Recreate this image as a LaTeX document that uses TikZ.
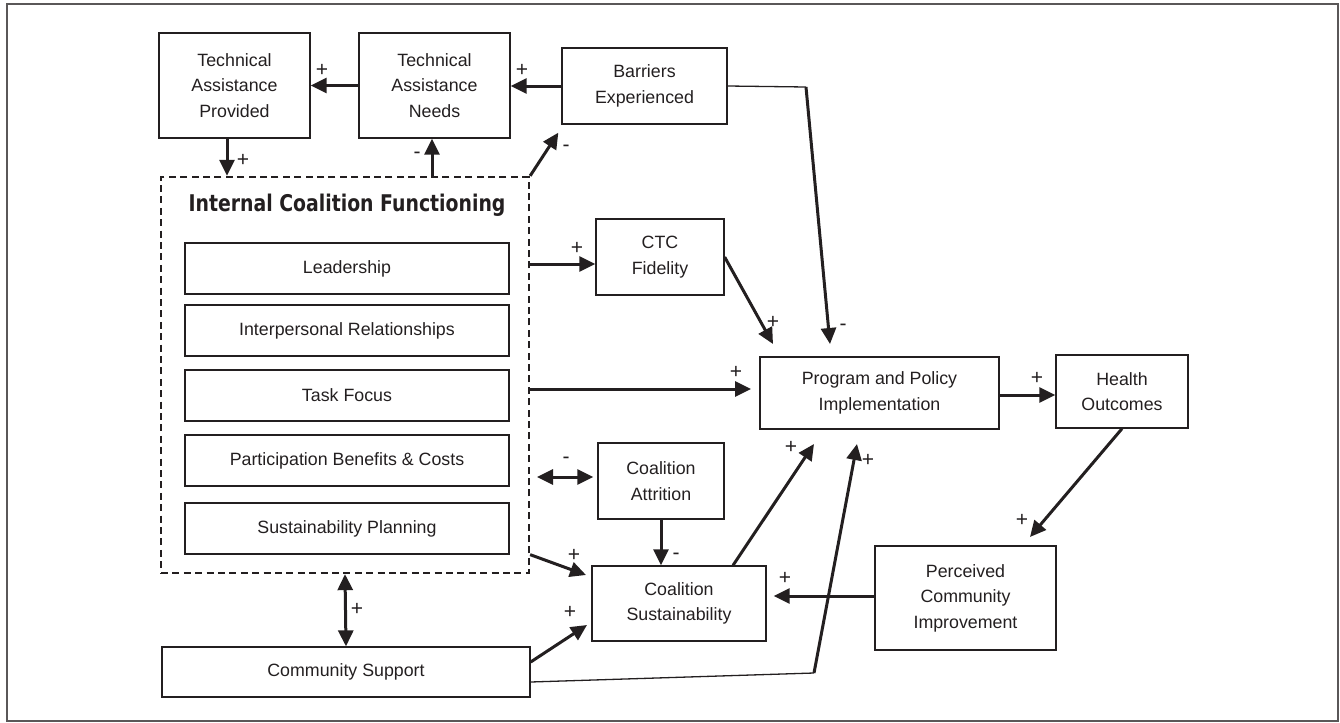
\documentclass[tikz,border=0pt]{standalone}
\usepackage{fontspec}
\setmainfont{Liberation Sans}
\newfontfamily\titlefont{DejaVu Sans}
\usetikzlibrary{arrows.meta,calc}
\definecolor{ink}{HTML}{231F20}
\begin{document}
\begin{tikzpicture}[x=0.5pt,y=-0.5pt,
  box/.style={draw=ink,line width=0.65pt,align=center,inner sep=0pt,text=ink,font=\fontsize{8.9}{12.8}\selectfont},
  thk/.style={draw=ink,line width=1.5pt,-{Triangle[length=8pt,width=7.5pt]}},
  dbl/.style={draw=ink,line width=1.5pt,{Triangle[length=8pt,width=7.5pt]}-{Triangle[length=8pt,width=7.5pt]}},
  thn/.style={draw=ink,line width=0.65pt},
  sg/.style={text=ink,font=\fontsize{10.5}{12}\selectfont,inner sep=0pt},
  dashbox/.style={draw=ink,line width=1.15pt,dash pattern=on 3.5pt off 2.2pt,inner sep=0pt},
]
\useasboundingbox (0,0) rectangle (1340,723);
\draw[ink!75,line width=0.7pt] (7,4) rectangle (1338,721);

% nodes
\node[box,minimum width=75.5pt,minimum height=52.5pt] (tap) at (234.5,85.5) {Technical\\Assistance\\Provided};
\node[box,minimum width=75.5pt,minimum height=52.5pt] (tan) at (434.5,85.5) {Technical\\Assistance\\Needs};
\node[box,minimum width=82.5pt,minimum height=38pt] (bar) at (644.5,86) {Barriers\\Experienced};
\node[dashbox,minimum width=184pt,minimum height=198pt] (icf) at (345,375) {};
\node[text=ink,inner sep=0pt] (title) at (347,205) {\scalebox{0.82}[1]{\titlefont\bfseries\fontsize{11.5}{13}\selectfont Internal Coalition Functioning}};
\node[box,minimum width=162pt,minimum height=25.5pt] (lead) at (347,268.5) {Leadership};
\node[box,minimum width=162pt,minimum height=25.5pt] (inter) at (347,330.5) {Interpersonal Relationships};
\node[box,minimum width=162pt,minimum height=25.5pt] (task) at (347,395.5) {Task Focus};
\node[box,minimum width=162pt,minimum height=25.5pt] (part) at (347,460.5) {Participation Benefits \& Costs};
\node[box,minimum width=162pt,minimum height=25.5pt] (spl) at (347,528.5) {Sustainability Planning};
\node[box,minimum width=64pt,minimum height=38pt] (ctc) at (660,257) {CTC\\Fidelity};
\node[box,minimum width=119.5pt,minimum height=36pt] (ppi) at (879.5,393) {Program and Policy\\Implementation};
\node[box,minimum width=66pt,minimum height=36.5pt] (ho) at (1122,391.5) {Health\\Outcomes};
\node[box,minimum width=63pt,minimum height=38pt] (att) at (661,481) {Coalition\\Attrition};
\node[box,minimum width=87pt,minimum height=37.5pt] (cs) at (679,603.5) {Coalition\\Sustainability};
\node[box,minimum width=90.5pt,minimum height=52pt] (pci) at (965.5,598) {Perceived\\Community\\Improvement};
\node[box,minimum width=184pt,minimum height=25pt] (com) at (346,672) {Community Support};

% free ends
\coordinate (bk) at (806,87);
\coordinate (barTip) at (830,344);
\coordinate (ctcIn) at ([yshift=-3.5pt]ctc.west);
\coordinate (ctcTip) at (773,344);
\coordinate (ppiIn) at (751,389);
\coordinate (pciTip) at (1030,537);
\coordinate (attL) at (537,477);
\coordinate (csTipA) at (586,575);
\coordinate (csTipB) at (587,625);
\coordinate (ppiTipA) at (814,444);
\coordinate (cm) at (814,673);
\coordinate (ppiTipB) at (857,444);

% connectors
\draw[thk] (tan.west) -- (tap.east);
\draw[thk] (bar.west) -- (bar.west -| tan.east);
\draw[thk] ([xshift=-3.75pt]tap.south) -- ([xshift=-3.75pt]tap.south |- icf.north);
\draw[thk] ([xshift=-1.25pt]tan.south |- icf.north) -- ([xshift=-1.25pt]tan.south);
\draw[thk] (icf.north east) -- ([shift={(-1.5pt,-4pt)}]bar.south west);
\draw[thn] (bar.east) -- (bk);
\draw[thk] (bk) -- (barTip);
\draw[thk] (icf.east |- ctcIn) -- (ctcIn);
\draw[thk] (ctc.east) -- (ctcTip);
\draw[thk] (icf.east |- ppiIn) -- (ppiIn);
\draw[thk] ([yshift=-1pt]ppi.east) -- ([yshift=-1pt]ppi.east -| ho.west);
\draw[thk] (ho.south) -- (pciTip);
\draw[dbl] (attL) -- ([xshift=-2pt]att.west |- attL);
\draw[thk] (att.south) -- (att.south |- cs.north);
\draw[thk] (icf.east |- spl.south) -- (csTipA);
\draw[thk] ([yshift=5pt]com.east) -- (csTipB);
\draw[thk] ([xshift=27pt]cs.north) -- (ppiTipA);
\draw[thn] ([yshift=-5pt]com.east) -- (cm);
\draw[thk] (cm) -- (ppiTipB);
\draw[thk] ([yshift=1pt]pci.west) -- ([yshift=1pt,xshift=3.5pt]pci.west -| cs.east);
\draw[dbl] (icf.south) -- (com.north);

% signs
\node[sg] (s1) at (322,70) {+};
\node[sg] (s2) at (522,70) {+};
\node[sg] (s3) at (243,160) {+};
\node[sg] (s4) at (417,155) {-};
\node[sg] (s5) at (566,148) {-};
\node[sg] (s6) at (577,248) {+};
\node[sg] (s7) at (773,322) {+};
\node[sg] (s8) at (843,327) {-};
\node[sg] (s9) at (736,372) {+};
\node[sg] (s10) at (1037,378) {+};
\node[sg] (s11) at (1022,520) {+};
\node[sg] (s12) at (566,460) {-};
\node[sg] (s13) at (676,556) {-};
\node[sg] (s14) at (574,555) {+};
\node[sg] (s15) at (570,612) {+};
\node[sg] (s16) at (791,447) {+};
\node[sg] (s17) at (868,460) {+};
\node[sg] (s18) at (785,578) {+};
\node[sg] (s19) at (357,609) {+};
\end{tikzpicture}
\end{document}
